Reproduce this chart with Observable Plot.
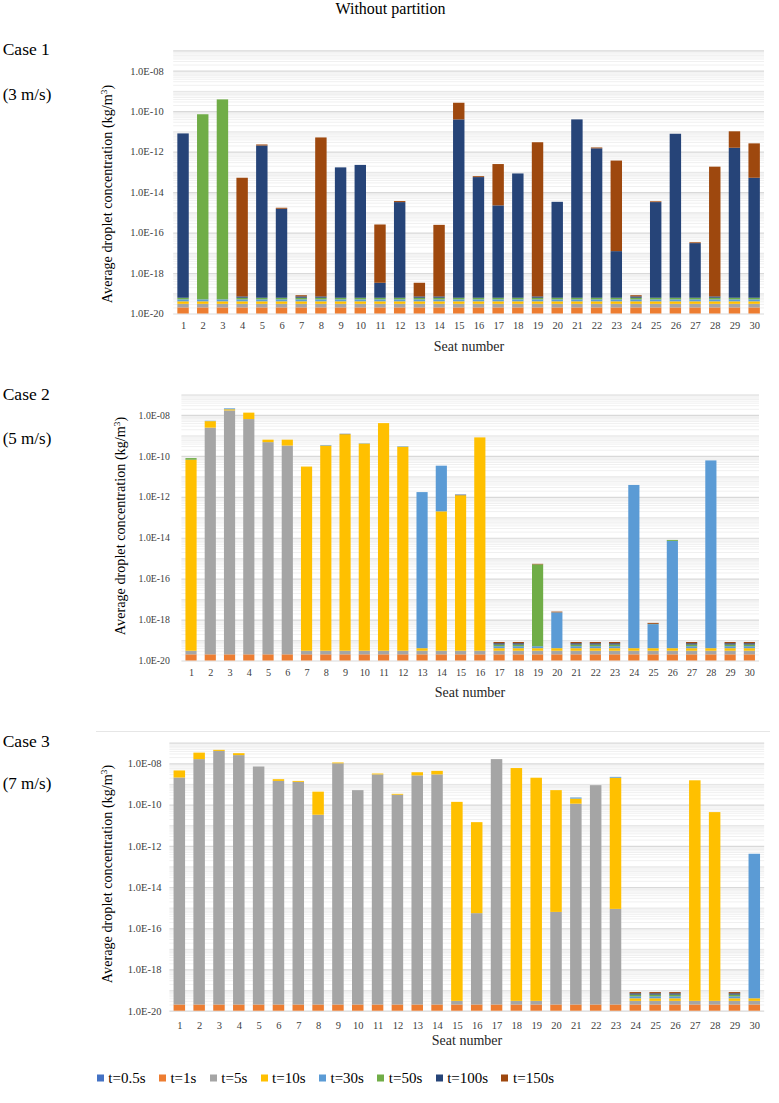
<!DOCTYPE html>
<html><head><meta charset="utf-8">
<script src="https://cdn.jsdelivr.net/npm/d3@7"></script>
<script src="https://cdn.jsdelivr.net/npm/@observablehq/plot@0.6"></script>
<style>
body{margin:0;background:#fff;}
#root{position:relative;width:779px;height:1103px;overflow:hidden;font-family:"Liberation Serif","Times New Roman",serif;color:#000;background:#fff;}
#root *{font-family:"Liberation Serif","Times New Roman",serif;}
.abs{position:absolute;white-space:nowrap;line-height:1;}
.c{transform:translate(-50%,-50%);}
.l{transform:translate(0,-50%);}
.rot{transform:translate(-50%,-50%) rotate(-90deg);}
.svgwrap{position:absolute;left:0;}
.legend{position:absolute;left:96.7px;top:1078px;transform:translate(0,-50%);display:flex;align-items:center;gap:13.3px;font-size:15px;}
.legend .it{display:flex;align-items:center;}
.legend .sw{width:7px;height:7px;margin-right:4.6px;}
</style></head><body><div id="root"></div>
<script>
const F = 1e-20; // floor value shown as the thin stacked base segments

const seats = [1,2,3,4,5,6,7,8,9,10,11,12,13,14,15,16,17,18,19,20,21,22,23,24,25,26,27,28,29,30];
const seriesNames = ["t=0.5s","t=1s","t=5s","t=10s","t=30s","t=50s","t=100s","t=150s"];
const seriesColors = ["#4472C4","#ED7D31","#A5A5A5","#FFC000","#5B9BD5","#70AD47","#264478","#9E480E"];
const yTickValues = [1e-20,1e-18,1e-16,1e-14,1e-12,1e-10,1e-8];

// ---------- Case 1 (3 m/s) ----------
const c1_t05  = [F,F,F,F,F,F,F,F,F,F,F,F,F,F,F,F,F,F,F,F,F,F,F,F,F,F,F,F,F,F];
const c1_t1   = [F,F,F,F,F,F,F,F,F,F,F,F,F,F,F,F,F,F,F,F,F,F,F,F,F,F,F,F,F,F];
const c1_t5   = [F,F,F,F,F,F,F,F,F,F,F,F,F,F,F,F,F,F,F,F,F,F,F,F,F,F,F,F,F,F];
const c1_t10  = [F,F,F,F,F,F,F,F,F,F,F,F,F,F,F,F,F,F,F,F,F,F,F,F,F,F,F,F,F,F];
const c1_t30  = [F,F,F,F,F,F,F,F,F,F,F,F,F,F,F,F,F,F,F,F,F,F,F,F,F,F,F,F,F,F];
const c1_t50  = [F,7e-11,3.8e-10,F,F,F,F,F,F,F,F,F,F,F,F,F,F,F,F,F,F,F,F,F,F,F,F,F,F,F];
const c1_t100 = [7.9e-12,F,F,F,2.0e-12,1.5e-15,F,F,1.66e-13,2.2e-13,2.7e-19,3.2e-15,F,F,3.9e-11,5.5e-14,2.2e-15,8.3e-14,F,3.3e-15,3.9e-11,1.45e-12,1.2e-17,F,3.2e-15,7.6e-12,3e-17,F,1.55e-12,5.1e-14];
const c1_t150 = [F,F,F,5.1e-14,2.5e-13,1.8e-16,F,5e-12,F,F,2.5e-16,4e-16,2.6e-19,2.4e-16,2.2e-10,6e-15,2.4e-13,F,2.9e-12,F,F,1.5e-13,3.6e-13,F,3e-16,F,3e-18,1.8e-13,8.5e-12,2.5e-12];

// ---------- Case 2 (5 m/s) ----------
const c2_t05  = [F,F,F,F,F,F,F,F,F,F,F,F,F,F,F,F,F,F,F,F,F,F,F,F,F,F,F,F,F,F];
const c2_t1   = [F,F,F,F,F,F,F,F,F,F,F,F,F,F,F,F,F,F,F,F,F,F,F,F,F,F,F,F,F,F];
const c2_t5   = [F,2.4e-9,1.66e-8,6.3e-9,4.7e-10,3.2e-10,F,F,F,F,F,F,F,F,F,F,F,F,F,F,F,F,F,F,F,F,F,F,F,F];
const c2_t10  = [6.5e-11,2.6e-9,2.4e-9,6.7e-9,1.5e-10,3.0e-10,3e-11,3.2e-10,1.15e-9,4e-10,4e-9,2.8e-10,F,1.95e-13,1.2e-12,8e-10,F,F,F,F,F,F,F,F,F,F,F,F,F,F];
const c2_t30  = [F,2e-10,2e-9,F,F,F,F,2e-11,F,1.5e-11,F,1.5e-11,1.7e-12,3.3e-11,F,F,F,F,F,2.2e-18,F,F,F,3.8e-12,5.6e-19,7e-15,F,6e-11,F,F];
const c2_t50  = [1.3e-11,F,F,F,F,F,F,F,F,F,F,F,F,F,F,F,F,F,5e-16,F,F,F,F,F,F,8e-16,F,F,F,F];
const c2_t100 = [F,F,F,F,F,F,F,F,5e-11,F,F,F,F,F,8e-14,F,F,F,F,F,F,F,F,F,F,F,F,F,F,F];
const c2_t150 = [F,F,F,F,F,F,F,F,F,F,F,F,F,F,F,F,F,F,3e-17,2e-19,F,F,F,F,7e-20,F,F,F,F,F];

// ---------- Case 3 (7 m/s) ----------
const c3_t05  = [F,F,F,F,F,F,F,F,F,F,F,F,F,F,F,F,F,F,F,F,F,F,F,F,F,F,F,F,F,F];
const c3_t1   = [F,F,F,F,F,F,F,F,F,F,F,F,F,F,F,F,F,F,F,F,F,F,F,F,F,F,F,F,F,F];
const c3_t5   = [2.05e-9,1.6e-8,4e-8,2.5e-8,7e-9,1.4e-9,1.26e-9,3.2e-11,1.0e-8,5e-10,2.9e-9,3e-10,2.6e-9,2.9e-9,F,5.4e-16,1.6e-8,F,F,6.2e-16,1.1e-10,8.7e-10,8.7e-16,F,F,F,F,F,F,F];
const c3_t10  = [2.45e-9,1.7e-8,5e-9,6e-9,F,3e-10,1.4e-10,3.9e-10,1e-9,F,3e-10,3e-11,1.1e-9,1.4e-9,1.35e-10,1.4e-11,F,5.9e-9,2e-9,5e-10,8.5e-11,F,2e-9,F,F,F,1.5e-9,4.3e-11,F,F];
const c3_t30  = [F,F,F,F,F,F,F,F,F,F,F,F,F,F,F,F,F,F,F,F,2.5e-11,F,2e-10,F,F,F,F,F,F,4.1e-13];
const c3_t50  = [F,F,F,F,F,F,F,F,F,F,F,F,F,F,F,F,F,F,F,F,F,F,F,F,F,F,F,F,F,F];
const c3_t100 = [F,F,F,F,F,F,F,F,F,F,F,F,F,F,F,F,F,F,F,F,F,F,F,F,F,F,F,F,F,F];
const c3_t150 = [F,F,F,F,F,F,F,F,F,F,F,F,F,F,F,F,F,F,F,F,F,F,F,F,F,F,F,F,F,F];

const cases = [
  {series:[c1_t05,c1_t1,c1_t5,c1_t10,c1_t30,c1_t50,c1_t100,c1_t150], top:40, height:300, plotTop:50.4, plotBottom:313.5, left:173.2, right:764, xPad:7.5, yPad:10, yFont:10.5, xFont:10.5},
  {series:[c2_t05,c2_t1,c2_t5,c2_t10,c2_t30,c2_t50,c2_t100,c2_t150], top:385, height:300, plotTop:394.5, plotBottom:660.5, left:181.4, right:759, xPad:8.2, yPad:12, yFont:9.8, xFont:10.2},
  {series:[c3_t05,c3_t1,c3_t5,c3_t10,c3_t30,c3_t50,c3_t100,c3_t150], top:732, height:305, plotTop:742.7, plotBottom:1010.7, left:169.4, right:764.2, xPad:10.3, yPad:8.5, yFont:10.5, xFont:10.5}
];

const SERIF = "'Liberation Serif', 'Times New Roman', serif";
const fmtE = d => { const e = Math.round(Math.log10(d)); return "1.0E" + (e < 0 ? "-" : "+") + String(Math.abs(e)).padStart(2, "0"); };

// gridlines (axis decoration)
const gridMajor = [...yTickValues, 1e-7];
const gridOdd = [1e-19,1e-17,1e-15,1e-13,1e-11,1e-9];
const gridMinor = [];
for (let e = -20; e <= -8; e++) for (let n = 2; n <= 9; n++) gridMinor.push(n * Math.pow(10, e));

const root = document.getElementById("root");

function stackRows(seriesArrays) {
  const rows = [];
  seats.forEach((s, i) => {
    let cum = 0;
    seriesArrays.forEach((arr, k) => {
      const v = arr[i];
      const y1 = cum;
      cum += v;
      rows.push({seat: s, series: seriesNames[k], y1: Math.max(y1, F), y2: cum});
    });
  });
  return rows;
}

cases.forEach(c => {
  const rows = stackRows(c.series);
  const plot = Plot.plot({
    width: 779,
    height: c.height,
    marginLeft: c.left,
    marginRight: 779 - c.right,
    marginTop: c.plotTop - c.top,
    marginBottom: c.top + c.height - c.plotBottom,
    x: {type: "band", domain: seats, paddingInner: 0.42, paddingOuter: 0.21, round: false, axis: null},
    y: {type: "log", domain: [1e-20, 1e-7], axis: null},
    color: {domain: seriesNames, range: seriesColors},
    style: {fontFamily: SERIF, color: "#404040", background: "transparent", overflow: "visible"},
    marks: [
      Plot.ruleY(gridMinor, {stroke: "#f0f0f0", strokeWidth: 1}),
      Plot.ruleY(gridOdd, {stroke: "#e4e4e4", strokeWidth: 1}),
      Plot.ruleY(gridMajor, {stroke: "#d9d9d9", strokeWidth: 1.2}),
      Plot.barY(rows, {x: "seat", y1: "y1", y2: "y2", fill: "series"}),
      Plot.axisX({tickSize: 0, tickPadding: c.xPad, label: null, fontSize: c.xFont, fontFamily: SERIF}),
      Plot.axisY(yTickValues, {tickSize: 0, tickPadding: c.yPad, tickFormat: fmtE, label: null, fontSize: c.yFont, fontFamily: SERIF})
    ]
  });
  const wrap = document.createElement("div");
  wrap.className = "svgwrap";
  wrap.style.top = c.top + "px";
  wrap.appendChild(plot);
  root.appendChild(wrap);
});

function addText(html, x, y, cls, size, extra) {
  const d = document.createElement("div");
  d.className = "abs " + cls;
  d.style.left = x + "px";
  d.style.top = y + "px";
  d.style.fontSize = size + "px";
  if (extra) Object.assign(d.style, extra);
  d.innerHTML = html;
  root.appendChild(d);
}

addText("Without partition", 390.5, 9, "c", 16);

addText("Case 1", 2.7, 50, "l", 17.5);
addText("(3 m/s)", 2.7, 94, "l", 17);
addText("Case 2", 2.7, 395, "l", 17.5);
addText("(5 m/s)", 2.7, 437.5, "l", 17);
addText("Case 3", 2.7, 741.7, "l", 17.5);
addText("(7 m/s)", 2.7, 783.3, "l", 17);

const yTitle = "Average droplet concentration (kg/m<sup style='font-size:0.65em;vertical-align:0.55em'>3</sup>)";
addText(yTitle, 107, 194, "rot", 14.2);
addText(yTitle, 120, 526, "rot", 14.2);
addText(yTitle, 107, 874, "rot", 14.2);

addText("Seat number", 469, 347, "c", 14, {color: "#262626"});
addText("Seat number", 470, 693, "c", 14, {color: "#262626"});
addText("Seat number", 467, 1041, "c", 14, {color: "#262626"});

// chart-area border line above case 3
const ln = document.createElement("div");
ln.style.cssText = "position:absolute;left:96px;top:730.5px;width:674px;height:1px;background:#e6e6e6;";
root.appendChild(ln);

// legend
const lg = document.createElement("div");
lg.className = "legend";
seriesNames.forEach((n, i) => {
  const it = document.createElement("div");
  it.className = "it";
  const sw = document.createElement("span");
  sw.className = "sw";
  sw.style.background = seriesColors[i];
  const tx = document.createElement("span");
  tx.textContent = n;
  it.appendChild(sw); it.appendChild(tx);
  lg.appendChild(it);
});
root.appendChild(lg);
</script>
</body></html>
